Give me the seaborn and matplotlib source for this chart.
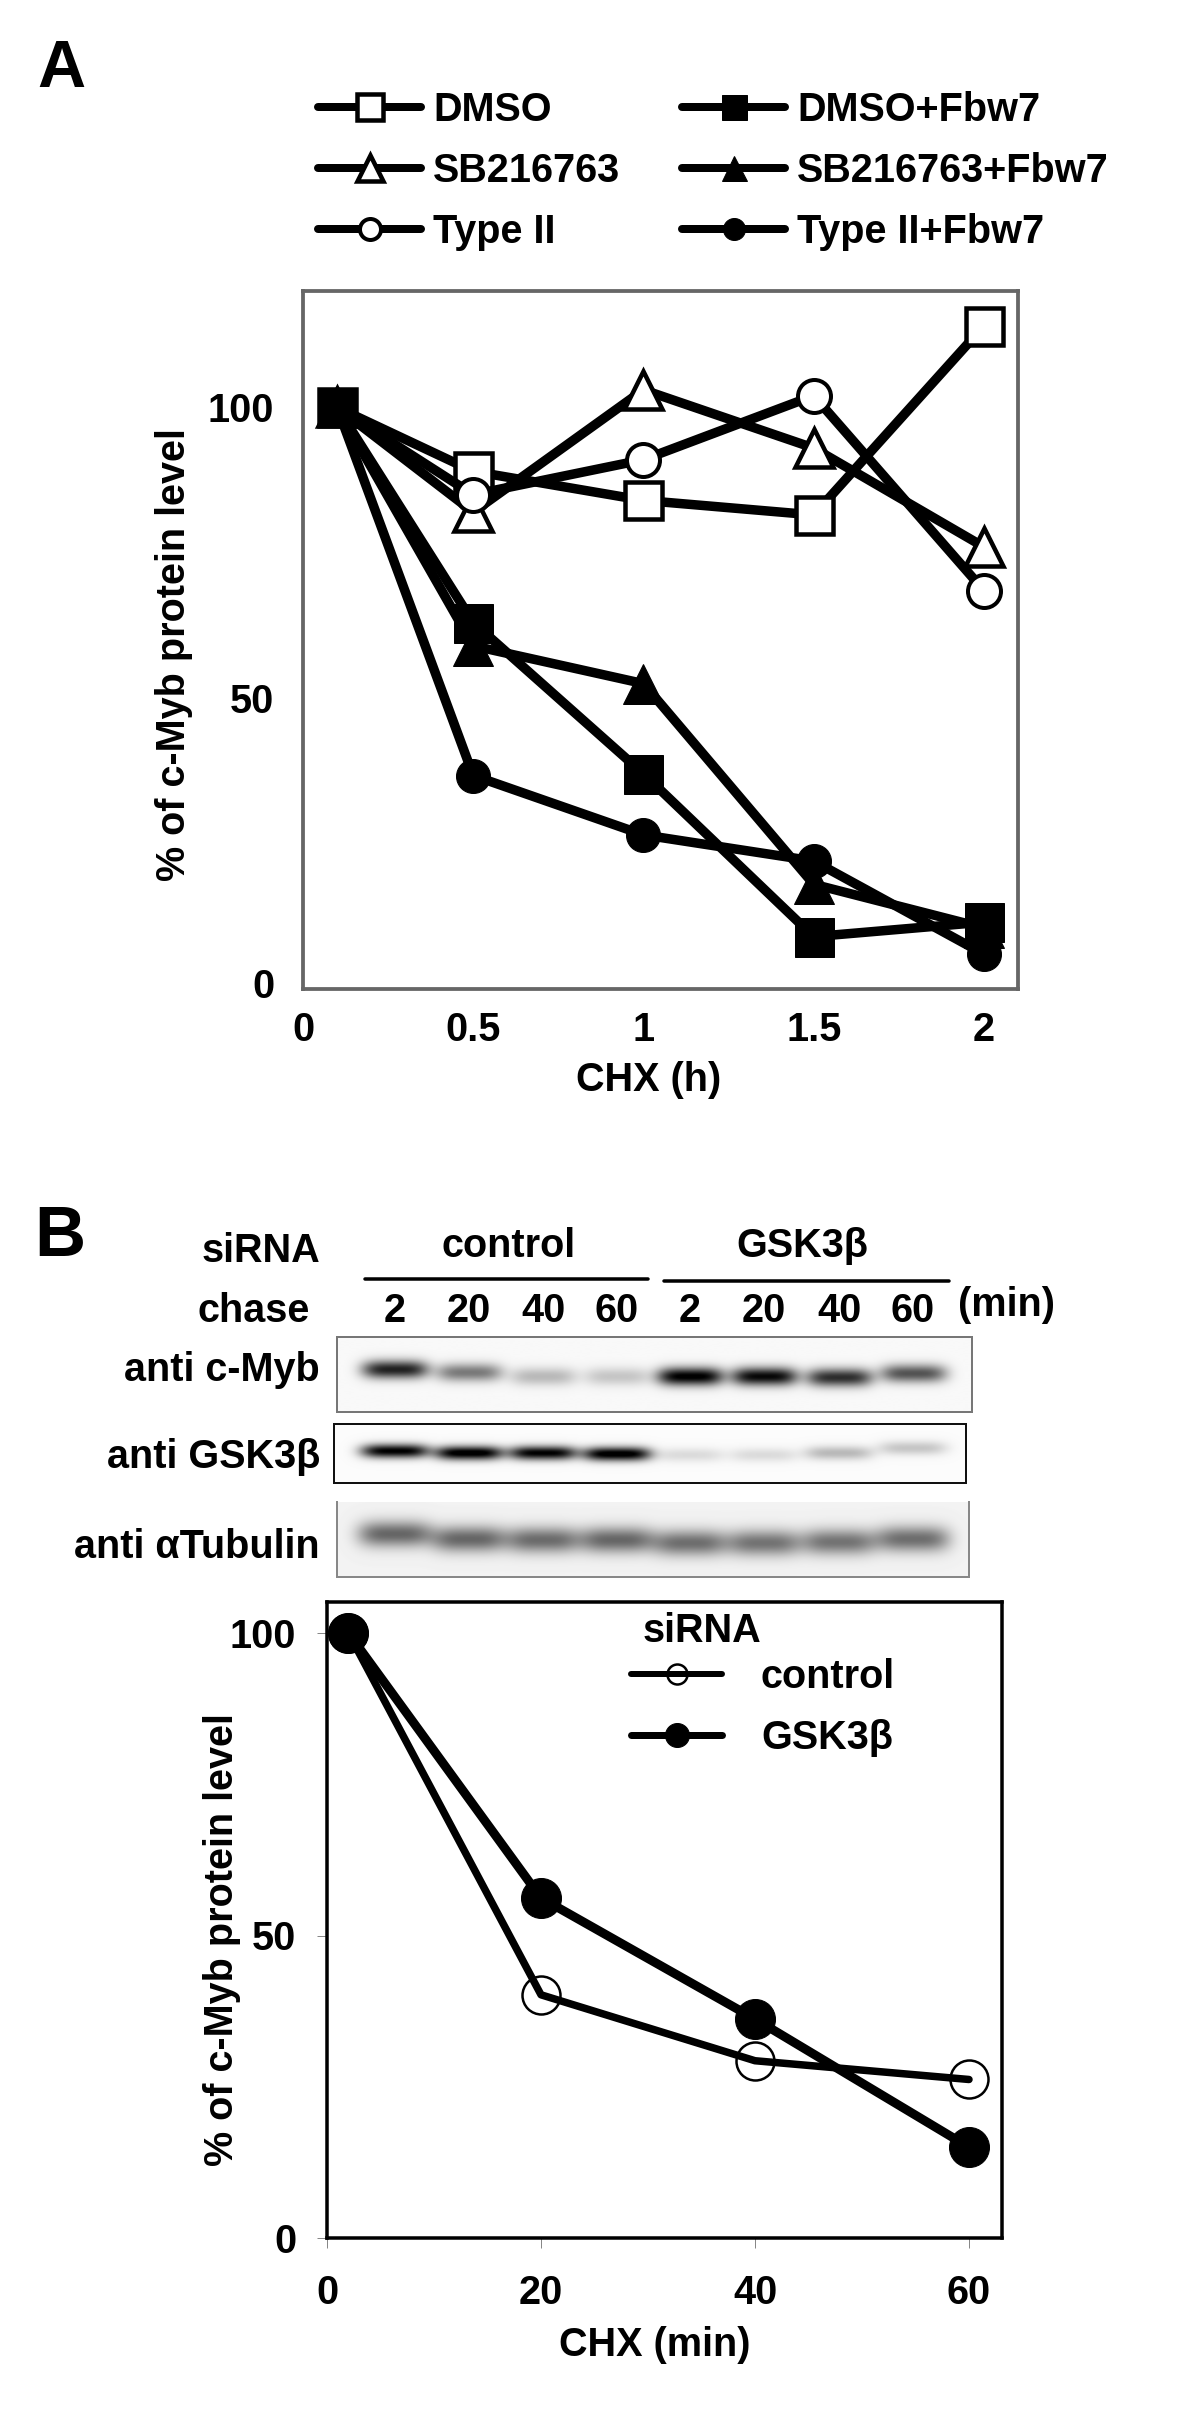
import numpy as np
import pandas as pd
import matplotlib
matplotlib.use("Agg")
import matplotlib.pyplot as plt
from matplotlib.lines import Line2D
from matplotlib.transforms import ScaledTranslation
import seaborn as sns

# ---------- data ----------
hours = [0.1, 0.5, 1.0, 1.5, 2.0]
dmso = [100, 89, 84, 81.5, 114]
sb = [100, 82, 103, 93, 76]
type2 = [100, 85, 91, 102, 68.5]
dmso_fbw = [100, 63, 37, 9, 11.5]
sb_fbw = [100, 59, 52.5, 18, 10.5]
type2_fbw = [100, 36.7, 26.5, 22, 6]

minutes = [2, 20, 40, 60]
ctrl = [100, 40.2, 29.3, 26.2]
gsk = [100, 56.2, 36.2, 15]

lane_labels = ["2", "20", "40", "60", "2", "20", "40", "60"]
myb_band = [0.85, 0.50, 0.25, 0.20, 1.0, 0.95, 0.80, 0.65]
gsk_band = [0.95, 1.0, 0.95, 1.0, 0.12, 0.12, 0.25, 0.20]
tub_band = [0.55, 0.55, 0.53, 0.55, 0.52, 0.50, 0.50, 0.52]

# ---------- style ----------
sns.set_theme(style="white")
plt.rcParams["font.family"] = ["Liberation Sans", "DejaVu Sans"]
plt.rcParams["font.weight"] = "bold"
plt.rcParams["axes.labelweight"] = "bold"
plt.rcParams["text.color"] = "black"
FS = 28.5

W, H = 1200, 2411
PT = 72 / 100  # points per pixel at dpi 100
fig = plt.figure(figsize=(W / 100, H / 100), dpi=100, facecolor="white")


def axes_px(l, t, r, b):
    return fig.add_axes([l / W, 1 - b / H, (r - l) / W, (b - t) / H])


def txt(x, y, s, ha="left", va="baseline", size=FS, **kw):
    fig.text(x / W, 1 - y / H, s, ha=ha, va=va, fontsize=size, fontweight="bold", color="black", **kw)


def shift(label, dy_px):
    label.set_transform(label.get_transform() + ScaledTranslation(0, dy_px * PT / 72, fig.dpi_scale_trans))


# ---------- panel A ----------
axA = axes_px(303, 291, 1018, 989)
seriesA = [
    ("DMSO", dmso, "s", 37, "white", 4.5),
    ("SB216763", sb, "^", 38, "white", 4.5),
    ("Type II", type2, "o", 33, "white", 4.0),
    ("SB216763+Fbw7", sb_fbw, "^", 40, "black", 1),
    ("DMSO+Fbw7", dmso_fbw, "s", 39, "black", 1),
    ("Type II+Fbw7", type2_fbw, "o", 34, "black", 1),
]
for name, vals, mk, ms, mfc, mew in seriesA:
    df = pd.DataFrame({"CHX": hours, "level": vals})
    sns.lineplot(data=df, x="CHX", y="level", ax=axA, color="black", sort=False, errorbar=None,
                 marker=mk, markersize=ms * PT, markerfacecolor=mfc, markeredgecolor="black",
                 markeredgewidth=mew * PT, linewidth=9.5 * PT, legend=False, clip_on=False,
                 solid_joinstyle="round")
axA.set_xlim(0, 2.1)
axA.set_ylim(0, 120)
axA.set_xticks([0, 0.5, 1, 1.5, 2], ["0", "0.5", "1", "1.5", "2"])
axA.set_yticks([0, 50, 100], ["0", "50", "100"])
axA.tick_params(axis="both", length=0, labelsize=FS, colors="black")
axA.tick_params(axis="y", pad=29 * PT)
axA.tick_params(axis="x", pad=22 * PT)
shift(axA.get_yticklabels()[0], 6)
for sp in axA.spines.values():
    sp.set_color("#666666")
    sp.set_linewidth(3.8 * PT)
axA.set_xlabel("CHX (h)", fontsize=FS, fontweight="bold", color="black")
axA.xaxis.set_label_coords((649 - 303) / 715, -(1080 - 989) / 698)
axA.xaxis.label.set_va("center")
axA.set_ylabel("% of c-Myb protein level", fontsize=FS, fontweight="bold", color="black")
axA.yaxis.set_label_coords((174 - 303) / 715, 1 - (655 - 291) / 698)
axA.yaxis.label.set_va("center")

legA = [
    ("DMSO", "s", 26, "white", 4.5), ("SB216763", "^", 26, "white", 4.5), ("Type II", "o", 21, "white", 4),
    ("DMSO+Fbw7", "s", 25, "black", 1), ("SB216763+Fbw7", "^", 25, "black", 1), ("Type II+Fbw7", "o", 22, "black", 1),
]
handles = [Line2D([], [], color="black", lw=8 * PT, marker=m, markersize=s * PT, markerfacecolor=f,
                  markeredgecolor="black", markeredgewidth=e * PT, label=n) for n, m, s, f, e in legA]
fig.legend(handles=handles, ncol=2, frameon=False, fontsize=FS, numpoints=1, labelcolor="black",
           loc="upper left", bbox_to_anchor=(318 / W, 1 - 91 / H), borderaxespad=0, borderpad=0,
           handlelength=103 * PT / FS, handletextpad=12 * PT / FS,
           labelspacing=23 * PT / FS, columnspacing=62 * PT / FS)

# ---------- panel letters ----------
txt(37, 87, "A", size=48)
txt(34, 1256, "B", size=51)

# ---------- blot header ----------
txt(320, 1262, "siRNA", ha="right")
txt(509, 1257, "control", ha="center")
txt(802, 1257, "GSK3β", ha="center")
fig.add_artist(Line2D([365 / W, 648 / W], [1 - 1279 / H] * 2, color="black", lw=3.5 * PT))
fig.add_artist(Line2D([664 / W, 949 / W], [1 - 1281 / H] * 2, color="black", lw=3.5 * PT))
txt(310, 1322, "chase", ha="right")
lane_x = [395, 469, 543, 617, 690, 764, 839, 913]
for xp, lab in zip(lane_x, lane_labels):
    txt(xp, 1322, lab, ha="center")
txt(958, 1316, "(min)")
txt(320, 1381, "anti c-Myb", ha="right")
txt(320, 1468, "anti GSK3β", ha="right")
txt(320, 1558, "anti αTubulin", ha="right")


# ---------- blots ----------
def blot(box, bands, centres_y, half_h, half_w, bg, depth, edge, top_edge=True):
    l, t, r, b = box
    ax = axes_px(l, t, r, b)
    yy, xx = np.mgrid[t:b:2j * (b - t), l:r:2j * (r - l)]
    img = np.full(xx.shape, bg, dtype=float)
    for xc, yc, amp in zip(lane_x, centres_y, bands):
        img -= depth * amp * np.exp(-((xx - xc) / half_w) ** 4 - ((yy - yc) / half_h) ** 2)
    ax.imshow(np.clip(img, 0, 1), cmap="gray", vmin=0, vmax=1, extent=(l, r, b, t), aspect="auto",
              interpolation="bilinear")
    ax.set_xticks([])
    ax.set_yticks([])
    ax.grid(False)
    for sp in ax.spines.values():
        sp.set_color(edge)
        sp.set_linewidth(2 * PT)
    if not top_edge:
        ax.spines["top"].set_visible(False)


blot((337, 1337, 972, 1412), myb_band, [1370, 1373, 1377, 1377, 1377, 1377, 1378, 1374], 9, 33,
     0.975, 1.0, "#777777")
blot((334, 1424, 966, 1483), gsk_band, [1451, 1453, 1453, 1454, 1455, 1455, 1453, 1448], 7, 34,
     0.985, 1.05, "#111111")
blot((337, 1502, 969, 1577), tub_band, [1534, 1539, 1540, 1540, 1543, 1543, 1542, 1539], 13, 37,
     0.95, 1.0, "#888888", top_edge=False)

# ---------- panel B ----------
axB = axes_px(327, 1602, 1002, 2238)
sns.lineplot(data=pd.DataFrame({"CHX": minutes, "level": ctrl}), x="CHX", y="level", ax=axB, color="black",
             errorbar=None, sort=False, marker="o", markersize=38 * PT, markerfacecolor="none",
             markeredgecolor="black", markeredgewidth=2.5 * PT, linewidth=7.5 * PT, legend=False, clip_on=False)
sns.lineplot(data=pd.DataFrame({"CHX": minutes, "level": gsk}), x="CHX", y="level", ax=axB, color="black",
             errorbar=None, sort=False, marker="o", markersize=40 * PT, markerfacecolor="black",
             markeredgecolor="black", markeredgewidth=1 * PT, linewidth=9 * PT, legend=False, clip_on=False)
axB.set_xlim(0, (1002 - 327) / (969 - 327) * 60)
axB.set_ylim(0, (2238 - 1602) / (2238 - 1633) * 100)
axB.set_xticks([0, 20, 40, 60], ["0", "20", "40", "60"])
axB.set_yticks([0, 50, 100], ["0", "50", "100"])
axB.tick_params(axis="both", length=10 * PT, width=1 * PT, color="#888888", labelsize=FS, labelcolor="black",
                left=True, bottom=True)
axB.tick_params(axis="y", pad=21 * PT)
axB.tick_params(axis="x", pad=26 * PT)
for sp in axB.spines.values():
    sp.set_color("black")
    sp.set_linewidth(3.5 * PT)
axB.set_xlabel("CHX (min)", fontsize=FS, fontweight="bold", color="black")
axB.xaxis.set_label_coords((655 - 327) / 675, -(2345 - 2238) / 636)
axB.xaxis.label.set_va("center")
axB.set_ylabel("% of c-Myb protein level", fontsize=FS, fontweight="bold", color="black")
axB.yaxis.set_label_coords((222 - 327) / 675, 1 - (1940 - 1602) / 636)
axB.yaxis.label.set_va("center")

txt(702, 1631, "siRNA", ha="center", va="center")
handlesB = [
    Line2D([], [], color="black", lw=6 * PT, marker="o", markersize=20 * PT, markerfacecolor="none",
           markeredgecolor="black", markeredgewidth=2.5 * PT, label="control"),
    Line2D([], [], color="black", lw=7 * PT, marker="o", markersize=24 * PT, markerfacecolor="black",
           markeredgecolor="black", markeredgewidth=1 * PT, label="GSK3β"),
]
fig.legend(handles=handlesB, frameon=False, fontsize=FS, numpoints=1, loc="upper left", labelcolor="black",
           bbox_to_anchor=(631 / W, 1 - 1658 / H), borderaxespad=0, borderpad=0,
           handlelength=91 * PT / FS, handletextpad=39 * PT / FS, labelspacing=23 * PT / FS)

fig.savefig("out.png", dpi=100, facecolor="white")
